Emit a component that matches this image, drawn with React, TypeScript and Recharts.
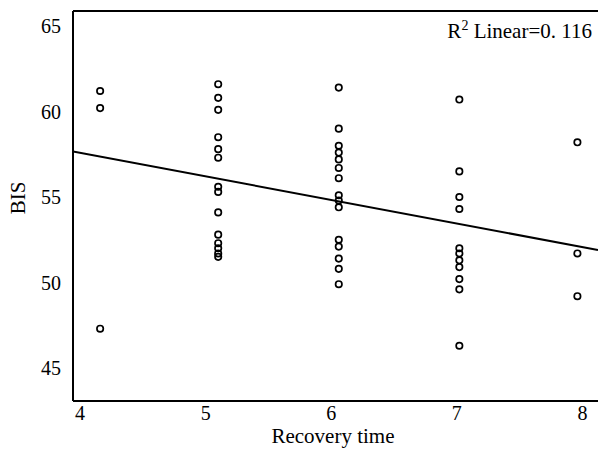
import { ReferenceLine, Scatter, ScatterChart, XAxis, YAxis } from "recharts";

// recovery time at which each column of points sits
const times = [4.16, 5.1, 6.06, 7.02, 7.96];

const bis4 = [61.2, 60.2, 47.3];
const bis5 = [61.6, 60.8, 60.1, 58.5, 57.8, 57.3, 55.6, 55.3, 54.1, 52.8, 52.3, 52.0, 51.7, 51.5];
const bis6 = [61.4, 59.0, 58.0, 57.6, 57.2, 56.7, 56.1, 55.1, 54.8, 54.4, 52.5, 52.1, 51.4, 50.8, 49.9];
const bis7 = [60.7, 56.5, 55.0, 54.3, 52.0, 51.7, 51.3, 50.9, 50.2, 49.6, 46.3];
const bis8 = [58.2, 51.7, 49.2];

const xTicks = [4, 5, 6, 7, 8];
const yTicks = [45, 50, 55, 60, 65];

// linear fit, R2 = 0.116
const fitIntercept = 63.11;
const fitSlope = -1.38;
const rSquared = "0. 116";

const xDomain: [number, number] = [3.944, 8.124];
const yDomain: [number, number] = [43.07, 65.88];

const columns = [bis4, bis5, bis6, bis7, bis8];
const points = columns.flatMap((vals, i) => vals.map((bis) => ({ time: times[i], bis })));
const fitLine = xDomain.map((time) => ({ time, bis: fitIntercept + fitSlope * time }));

const font = "'Liberation Serif', 'Times New Roman', serif";
const tickStyle = { fill: "#000", fontSize: 20, fontFamily: font };

const Ring = (p: any) => (
  <circle cx={p.cx} cy={p.cy} r={3.2} fill="none" stroke="#000" strokeWidth={1.7} />
);

export default function App() {
  return (
    <div style={{ position: "absolute", left: 0, top: 0, width: 598, height: 449 }}>
      <ScatterChart width={598} height={449} margin={{ top: 11, right: 0, bottom: 0, left: 0 }}>
        <XAxis
          type="number"
          dataKey="time"
          domain={xDomain}
          ticks={xTicks}
          allowDataOverflow
          tickLine={false}
          tickSize={0}
          tickMargin={5}
          tick={tickStyle}
          axisLine={{ stroke: "#000", strokeWidth: 2 }}
          height={48}
          label={{
            content: () => (
              <text x={333} y={443} textAnchor="middle" fontFamily={font} fontSize={21} fill="#000">
                Recovery time
              </text>
            )
          }}
        />
        <YAxis
          type="number"
          dataKey="bis"
          domain={yDomain}
          ticks={yTicks}
          allowDataOverflow
          width={73}
          tickLine={false}
          tickSize={0}
          tickMargin={12}
          tick={tickStyle}
          axisLine={{ stroke: "#000", strokeWidth: 2 }}
          label={{
            content: () => (
              <text
                x={18}
                y={198}
                transform="rotate(-90 18 198)"
                textAnchor="middle"
                dominantBaseline="central"
                fontFamily={font}
                fontSize={21}
                fill="#000"
              >
                BIS
              </text>
            )
          }}
        />
        <ReferenceLine y={yDomain[1]} stroke="#000" strokeWidth={2} />
        <Scatter
          data={fitLine}
          line={{ stroke: "#000", strokeWidth: 2 }}
          shape={() => null}
          isAnimationActive={false}
        />
        <Scatter data={points} shape={Ring} isAnimationActive={false} />
      </ScatterChart>
      <div
        style={{
          position: "absolute",
          right: 6,
          top: 19,
          fontFamily: font,
          fontSize: 21,
          color: "#000",
          lineHeight: "24px",
          whiteSpace: "nowrap"
        }}
      >
        R<sup style={{ fontSize: 14, verticalAlign: "8px", lineHeight: 0 }}>2</sup> Linear={rSquared}
      </div>
    </div>
  );
}
